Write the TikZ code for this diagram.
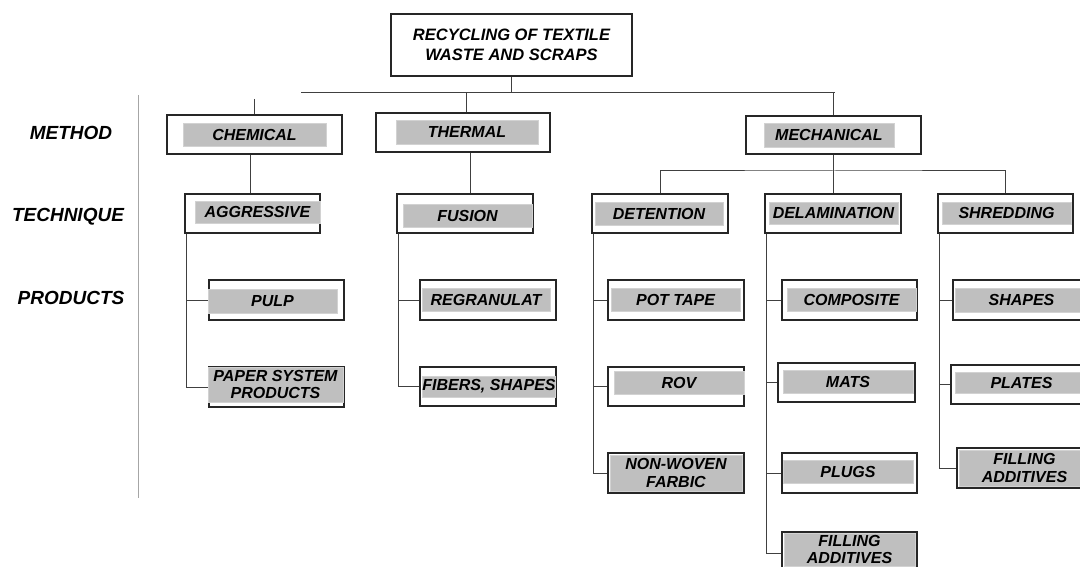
\documentclass[tikz,border=0pt]{standalone}
\usepackage{fontspec}
\setmainfont{Liberation Sans}
\begin{document}
\begin{tikzpicture}[x=1pt, y=-1pt,
  box/.style={draw=black!85, line width=1.1pt, fill=white, inner sep=0pt},
  tag/.style={fill=gray!50, draw=gray!35, line width=.8pt, inner sep=0pt, align=center,
    font=\fontsize{16}{17.5}\selectfont\bfseries\itshape},
  lvl/.style={font=\fontsize{19}{21}\selectfont\bfseries\itshape},
  link/.style={draw=black!75, line width=1pt}]
\path[use as bounding box, clip](0,0) rectangle (1080,567);
\node[box, line width=1.6pt, minimum width=241pt, minimum height=62pt, align=center,
  font=\fontsize{16.5}{20}\selectfont\bfseries\itshape](root) at (511.5,45){RECYCLING OF TEXTILE\\WASTE AND SCRAPS};
\foreach \n/\a/\b/\c/\d in {chem/167/115/342/154, therm/376/113/550/152, mech/746/116/921/154,
  aggr/185/194/320/233, fusion/397/194/533/233, deten/592/194/728/233, delam/765/194/901/233,
  shred/938/194/1073/233, pulp/209/280/344/320, paper/209/367/344/407, regran/420/280/556/320,
  fibers/420/367/556/406, pottape/608/280/744/320, compo/782/280/917/320, shapes/953/280/1088/320,
  rov/608/367/744/406, mats/778/363/915/402, plates/951/365/1088/404, nonwov/608/453/744/493,
  plugs/782/453/917/493, filld/782/532/917/575, fills/957/448/1092/488}
{
    \node[box, minimum width={(\c-\a)*1pt}, minimum height={(\d-\b)*1pt}](\n) at ({(\a+\c)/2},{(\b+\d)/2}){};
}
\foreach \n/\a/\b/\c/\d/\t in {chem/183/123/326/146/CHEMICAL, therm/396/120/538/144/THERMAL,
  mech/764/123/894/147/MECHANICAL, aggr/195/201/320/223/AGGRESSIVE, fusion/403/204/532/227/FUSION,
  deten/595/202/723/225/DETENTION, delam/769/202/898/224/DELAMINATION, shred/942/202/1071/224/SHREDDING,
  pulp/208/289/337/313/PULP, paper/208/367/343/402/{PAPER SYSTEM\\PRODUCTS},
  regran/422/288/550/311/REGRANULAT, fibers/424/376/554/397/{FIBERS, SHAPES},
  pottape/611/288/740/311/POT TAPE, compo/787/288/916/311/COMPOSITE, shapes/955/288/1088/312/SHAPES,
  rov/614/371/744/394/ROV, mats/783/370/913/393/MATS, plates/955/372/1088/393/PLATES,
  nonwov/610/455/742/491/{NON-WOVEN\\FARBIC}, plugs/783/460/913/483/PLUGS,
  filld/784/533/915/566/{FILLING\\ADDITIVES}, fills/959/450/1090/486/{FILLING\\ADDITIVES}}
{
    \node[tag, minimum width={(\c-\a)*1pt}, minimum height={(\d-\b)*1pt}](\n-t) at ({(\a+\c)/2},{(\b+\d)/2}){\t};
}
\coordinate(busL) at (301,93);
\coordinate(busR) at (835,93);
\coordinate(stub) at (254,99);
\coordinate(mbus) at (834,171);
\draw[link](busL)--(busR);
\draw[link](root.south)--(root.south|-busL);
\draw[link]([xshift=3pt]therm.north)--([xshift=3pt]therm.north|-busL);
\draw[link](mech.north)--(mech.north|-busL);
\draw[link](stub)--(stub|-chem.north);
\draw[link]([xshift=-4pt]chem.south)--([xshift=-4pt]chem.south|-aggr.north);
\draw[link]([xshift=5pt]fusion.north|-therm.south)--([xshift=5pt]fusion.north);
\draw[link](mech.south)--(mech.south|-mbus);
\draw[link](deten.north)|-(mbus)-|(shred.north);
\draw[link](delam.north|-mbus)--(delam.north);
\foreach \p/\c in {aggr/pulp, aggr/paper, fusion/regran, fusion/fibers, deten/pottape, deten/rov,
  deten/nonwov, delam/compo, delam/mats, delam/plugs, delam/filld, shred/shapes, shred/plates, shred/fills}
{
    \draw[link]([xshift=2pt]\p.south west)|-(\c.west);
}
\draw[gray!70, line width=.8pt](138,95)--(138,498);
\node[lvl](method) at (71,133){METHOD};
\node[lvl](technique) at (68,217){TECHNIQUE};
\node[lvl](products) at (71,298){PRODUCTS};
\end{tikzpicture}
\end{document}
